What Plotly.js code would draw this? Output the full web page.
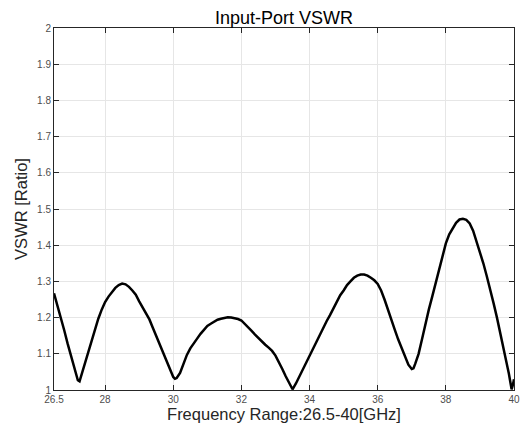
<!DOCTYPE html>
<html>
<head>
<meta charset="utf-8">
<script src="https://cdn.plot.ly/plotly-3.0.1.min.js"></script>
<style>html,body{margin:0;padding:0;background:#fff;}#chart{width:521px;height:436px;}</style>
</head>
<body>
<div id="chart"></div>
<script>
const freqGHz = [26.5,26.6,26.7,26.8,26.9,27.0,27.1,27.15,27.2,27.25,27.3,27.4,27.5,27.6,27.7,27.8,27.9,28.0,28.1,28.2,28.3,28.4,28.5,28.6,28.7,28.8,28.9,29.0,29.1,29.2,29.3,29.4,29.5,29.6,29.7,29.8,29.9,30.0,30.05,30.1,30.2,30.3,30.4,30.5,30.6,30.7,30.8,30.9,31.0,31.1,31.2,31.3,31.4,31.5,31.6,31.7,31.8,31.9,32.0,32.1,32.2,32.3,32.4,32.5,32.6,32.7,32.8,32.9,33.0,33.1,33.2,33.3,33.4,33.5,33.6,33.7,33.8,33.9,34.0,34.1,34.2,34.3,34.4,34.5,34.6,34.7,34.8,34.9,35.0,35.1,35.2,35.3,35.4,35.5,35.6,35.7,35.8,35.9,36.0,36.1,36.2,36.3,36.4,36.5,36.6,36.7,36.8,36.9,37.0,37.05,37.1,37.2,37.3,37.4,37.5,37.6,37.7,37.8,37.9,38.0,38.1,38.2,38.3,38.4,38.5,38.6,38.7,38.8,38.9,39.0,39.1,39.2,39.3,39.4,39.5,39.6,39.7,39.8,39.85,39.9,39.93,39.97,40.0];
const vswr = [1.267,1.235,1.203,1.165,1.128,1.093,1.06,1.042,1.027,1.024,1.04,1.07,1.103,1.135,1.167,1.197,1.222,1.243,1.258,1.271,1.282,1.29,1.294,1.292,1.285,1.275,1.263,1.245,1.228,1.21,1.195,1.172,1.15,1.127,1.104,1.08,1.058,1.036,1.031,1.033,1.047,1.072,1.097,1.115,1.13,1.142,1.155,1.167,1.177,1.183,1.189,1.194,1.197,1.2,1.201,1.2,1.199,1.196,1.192,1.183,1.173,1.163,1.153,1.143,1.134,1.125,1.117,1.108,1.095,1.078,1.058,1.038,1.018,1.002,1.018,1.037,1.057,1.077,1.097,1.117,1.135,1.153,1.172,1.19,1.207,1.225,1.245,1.262,1.275,1.29,1.3,1.31,1.316,1.319,1.319,1.316,1.31,1.303,1.293,1.275,1.25,1.22,1.192,1.167,1.14,1.115,1.09,1.07,1.058,1.06,1.072,1.1,1.14,1.183,1.222,1.258,1.295,1.333,1.37,1.405,1.43,1.448,1.462,1.471,1.473,1.47,1.46,1.44,1.41,1.385,1.35,1.315,1.28,1.24,1.2,1.158,1.115,1.072,1.045,1.018,1.002,1.015,1.03];
const xTickVals = [26.5,28,30,32,34,36,38,40];
const xTickText = ['26.5','28','30','32','34','36','38','40'];
const yTickVals = [1,1.1,1.2,1.3,1.4,1.5,1.6,1.7,1.8,1.9,2];
const yTickText = ['1','1.1','1.2','1.3','1.4','1.5','1.6','1.7','1.8','1.9','2'];

const font = 'Liberation Sans, Arial, Helvetica, sans-serif';
const axisCommon = {
  showline: true, linecolor: '#262626', linewidth: 1, mirror: 'ticks',
  ticks: 'inside', ticklen: 5, tickcolor: '#262626', tickwidth: 1,
  showgrid: true, gridcolor: '#e6e6e6', gridwidth: 1, zeroline: false,
  tickfont: {family: font, size: 10, color: '#4d4d4d'}
};
const layout = {
  width: 521, height: 436,
  paper_bgcolor: '#fff', plot_bgcolor: '#fff',
  margin: {l: 53.5, r: 7, t: 28, b: 45.5},
  showlegend: false,
  title: {text: 'Input-Port VSWR', font: {family: font, size: 18, color: '#000'}, x: 0.545, xanchor: 'center', y: 0.96, yanchor: 'middle'},
  xaxis: Object.assign({}, axisCommon, {
    range: [26.5, 40], tickmode: 'array', tickvals: xTickVals, ticktext: xTickText,
    title: {text: 'Frequency Range:26.5-40[GHz]', font: {family: font, size: 16.5, color: '#262626'}, standoff: 3}
  }),
  yaxis: Object.assign({}, axisCommon, {
    range: [1, 2], tickmode: 'array', tickvals: yTickVals, ticktext: yTickText,
    title: {text: 'VSWR [Ratio]', font: {family: font, size: 16.5, color: '#262626'}, standoff: 5}
  })
};
Plotly.newPlot('chart', [{
  x: freqGHz, y: vswr, type: 'scatter', mode: 'lines',
  line: {color: '#000', width: 2.5}, cliponaxis: true
}], layout, {staticPlot: true, displayModeBar: false});
</script>
</body>
</html>
